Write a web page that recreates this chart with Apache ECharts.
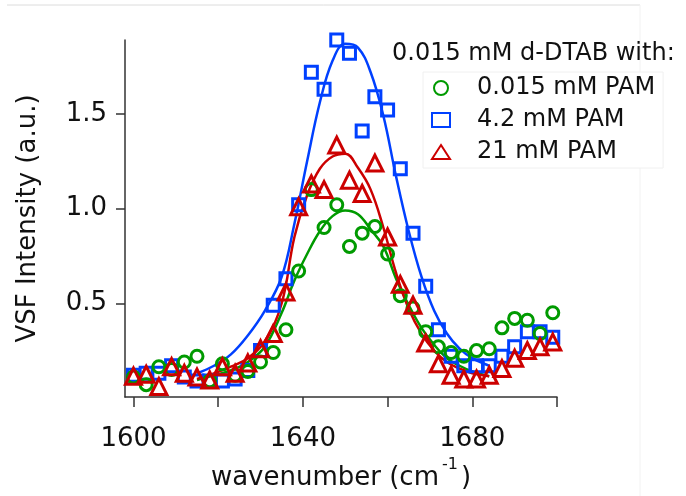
<!DOCTYPE html>
<html>
<head>
<meta charset="utf-8">
<script src="https://cdn.jsdelivr.net/npm/echarts@6/dist/echarts.min.js"></script>
<style>
html,body{margin:0;padding:0;background:#fff;}
#chart{width:686px;height:496px;}
</style>
</head>
<body>
<div id="chart"></div>
<script>
// ---- data ----
const wavenumbers = [1600,1603,1606,1609,1612,1615,1618,1621,1624,1627,1630,1633,1636,1639,1642,1645,1648,1651,1654,1657,1660,1663,1666,1669,1672,1675,1678,1681,1684,1687,1690,1693,1696,1699];
const pam0015 = [0.11,0.07,0.165,0.15,0.19,0.22,0.09,0.18,0.12,0.14,0.19,0.24,0.36,0.67,1.10,0.90,1.02,0.80,0.87,0.905,0.76,0.54,0.475,0.35,0.27,0.24,0.22,0.25,0.26,0.37,0.42,0.41,0.34,0.45];
const pam42 = [0.12,0.13,0.13,0.17,0.11,0.09,0.09,0.09,0.10,0.145,0.25,0.49,0.63,1.02,1.72,1.63,1.89,1.82,1.41,1.59,1.52,1.21,0.87,0.59,0.36,0.22,0.17,0.17,0.17,0.22,0.27,0.35,0.35,0.32];
const pam21 = [0.115,0.125,0.06,0.165,0.13,0.11,0.095,0.165,0.13,0.185,0.26,0.34,0.56,1.01,1.13,1.10,1.335,1.15,1.08,1.24,0.85,0.60,0.49,0.29,0.18,0.12,0.10,0.10,0.12,0.155,0.21,0.25,0.27,0.295];

// fit curves
const fitX = [1615,1619,1623,1627,1631,1635,1638,1641,1644,1647,1650,1653,1656,1659,1662,1665,1668,1671,1674,1677,1680,1684];
const fit0015 = [0.095,0.12,0.145,0.19,0.27,0.45,0.62,0.76,0.88,0.96,0.99,0.97,0.89,0.80,0.63,0.49,0.37,0.28,0.21,0.17,0.14,0.115];
const fit42 = [0.13,0.17,0.23,0.33,0.46,0.64,0.92,1.25,1.56,1.78,1.87,1.85,1.72,1.49,1.17,0.88,0.64,0.46,0.34,0.26,0.21,0.17];
const fit21 = [0.10,0.13,0.165,0.21,0.30,0.50,0.85,1.07,1.21,1.275,1.29,1.215,1.10,0.90,0.66,0.47,0.34,0.25,0.19,0.155,0.13,0.115];

const xTicks = [1600,1620,1640,1660,1680,1700];
const xLabels = [1600,1640,1680];
const yTicks = [0.5,1.0,1.5];

const seriesNames = ['0.015 mM PAM','4.2 mM PAM','21 mM PAM'];
const legendTitle = '0.015 mM d-DTAB with:';

const GREEN = '#009a00', BLUE = '#0040ff', RED = '#cc0000';
const FONT = 'DejaVu Sans';

function pairs(xs, ys){ return xs.map((x,i)=>[x, ys[i]]); }

const chart = echarts.init(document.getElementById('chart'), null, {renderer:'canvas'});

const scatterStyle = (c)=>({color:'rgba(255,255,255,0)', borderColor:c, borderWidth:3, opacity:1});

chart.setOption({
  animation:false,
  backgroundColor:'#fff',
  grid:{left:125, right:129, top:40, bottom:92, containLabel:false},
  xAxis:{
    type:'value', min:1598, max:1700,
    name:'{a|wavenumber (cm}{s|-1}{a|)}',
    nameLocation:'middle', nameGap:60,
    nameTextStyle:{rich:{
      a:{fontFamily:FONT, fontSize:26, color:'#111', lineHeight:34, verticalAlign:'bottom'},
      s:{fontFamily:FONT, fontSize:16, color:'#111', lineHeight:34, verticalAlign:'top', padding:[0,3,0,3]}
    }},
    axisLine:{show:true, onZero:false, lineStyle:{color:'#333', width:1.5}},
    axisTick:{show:true, length:10, inside:false, customValues:xTicks, lineStyle:{color:'#333', width:1.5}},
    axisLabel:{show:true, customValues:xLabels, margin:29, fontFamily:FONT, fontSize:26, color:'#111',
      formatter:(v)=>String(v)},
    splitLine:{show:false}
  },
  yAxis:{
    type:'value', min:0.005, max:1.89,
    name:'VSF Intensity (a.u.)',
    nameLocation:'middle', nameRotate:90, nameGap:84,
    nameTextStyle:{fontFamily:FONT, fontSize:26, color:'#111'},
    axisLine:{show:true, onZero:false, lineStyle:{color:'#333', width:1.5}},
    axisTick:{show:true, length:9, inside:false, customValues:yTicks, lineStyle:{color:'#333', width:1.5}},
    axisLabel:{show:true, customValues:yTicks, margin:18, fontFamily:FONT, fontSize:26, color:'#111',
      formatter:(v)=>v.toFixed(1)},
    splitLine:{show:false}
  },
  legend:{
    data:seriesNames.map(n=>({name:n})),
    orient:'vertical', left:423, top:72,
    itemWidth:18, itemHeight:14, itemGap:8,
    textStyle:{fontFamily:FONT, fontSize:24, color:'#111', padding:[0,0,0,22]},
    backgroundColor:'#fff', borderColor:'#f0f0f0', borderWidth:1, padding:[4,8,4,8],
    selectedMode:false
  },
  graphic:[
    {type:'text', left:392, top:42, style:{text:legendTitle, font:'24px "DejaVu Sans"', fill:'#111'}, z:100},
    {type:'line', shape:{x1:7,y1:5,x2:640,y2:5}, style:{stroke:'#dcdcdc', lineWidth:1}, z:-1},
    {type:'line', shape:{x1:640,y1:5,x2:640,y2:496}, style:{stroke:'#f2f2f2', lineWidth:1}, z:-1}
  ],
  series:[
    {name:'fit0015', type:'line', data:pairs(fitX, fit0015), smooth:0.4, showSymbol:false, lineStyle:{color:GREEN, width:2.5}, z:2, silent:true},
    {name:'fit42', type:'line', data:pairs(fitX, fit42), smooth:0.4, showSymbol:false, lineStyle:{color:BLUE, width:2.5}, z:2, silent:true},
    {name:'fit21', type:'line', data:pairs(fitX, fit21), smooth:0.4, showSymbol:false, lineStyle:{color:RED, width:2.5}, z:2, silent:true},
    {name:seriesNames[1], type:'scatter', symbol:'rect', symbolSize:12, clip:false, data:pairs(wavenumbers, pam42), itemStyle:scatterStyle(BLUE), z:3},
    {name:seriesNames[0], type:'scatter', symbol:'circle', symbolSize:12, clip:false, data:pairs(wavenumbers, pam0015), itemStyle:scatterStyle(GREEN), z:3},
    {name:seriesNames[2], type:'scatter', symbol:'triangle', symbolSize:16, clip:false, data:pairs(wavenumbers, pam21), itemStyle:scatterStyle(RED), z:4}
  ]
});
</script>
</body>
</html>
